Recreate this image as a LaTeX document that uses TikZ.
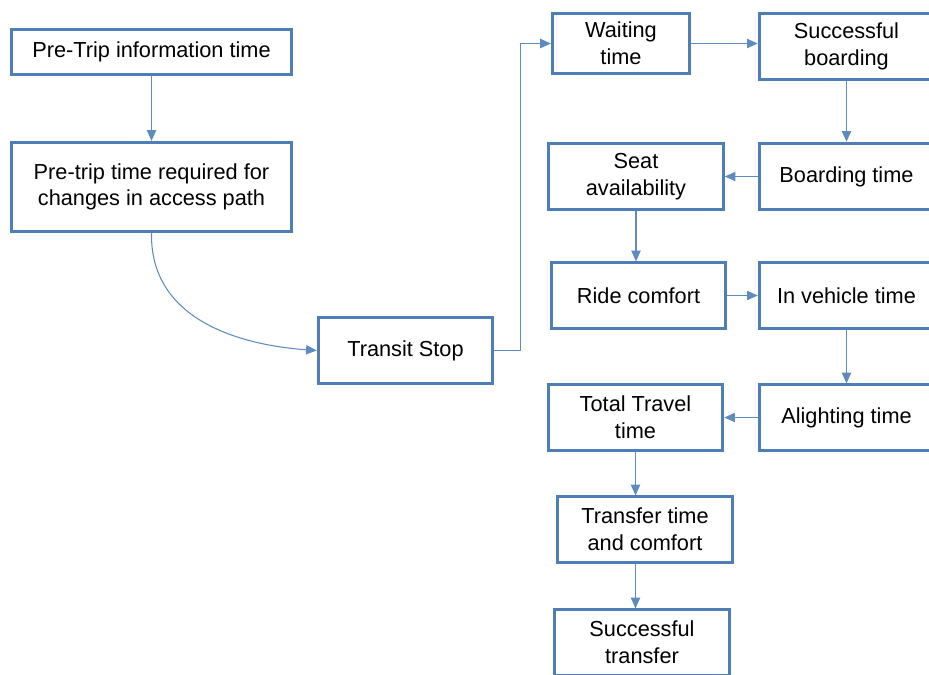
\documentclass[tikz,border=0pt]{standalone}
\usepackage{fontspec}
\setmainfont{Liberation Sans}
\usetikzlibrary{arrows.meta}
\definecolor{boxblue}{RGB}{79,125,181}
\definecolor{lineblue}{RGB}{94,139,192}

\begin{document}
\begin{tikzpicture}[x=0.75pt,y=-0.75pt,>={Triangle[length=8pt,width=7pt]},
    box/.style={draw=boxblue,line width=2.2pt,fill=white,align=center,inner sep=2pt,
      font=\fontsize{16.3}{20}\selectfont},
    cell/.style={box,minimum width=131pt,minimum height=49pt},
    link/.style={->,draw=lineblue,line width=0.8pt}]
  \clip (0,0) rectangle (929,675);

  \node[box,minimum width=210pt,minimum height=34pt] (info)   at (151.5,52)  {Pre-Trip information time};
  \node[box,minimum width=210pt,minimum height=67pt] (change) at (151.5,187)
        {Pre-trip time required for\\changes in access path};
  \node[cell] (stop)     at (405.5,350.5) {Transit Stop};
  \node[box,minimum width=103pt,minimum height=45pt] (wait) at (621,43.5) {Waiting\\time};
  \node[cell,minimum height=50pt] (sboard)   at (846.5,46.5)  {Successful\\boarding};
  \node[cell,minimum height=50pt] (seat)     at (636,176.5)   {Seat\\availability};
  \node[cell,minimum height=50pt] (boardt)   at (846.5,176.5) {Boarding time};
  \node[cell] (ride)     at (638.5,295.5) {Ride comfort};
  \node[cell] (vehicle)  at (846.5,295.5) {In vehicle time};
  \node[cell] (total)    at (635.5,417.5) {Total Travel\\time};
  \node[cell] (alight)   at (846.5,417.5) {Alighting time};
  \node[cell] (transfer) at (645,529.5)   {Transfer time\\and comfort};
  \node[cell] (stransf)  at (642,642.5)   {Successful\\transfer};

  \draw[link] (info) -- (change);
  \draw[link] (change.south) .. controls (150,320) and (240,345) .. (stop.west);
  \draw[link] (stop.east) -- ++(26,0) |- (wait.west);
  \draw[link] (wait.east) -- (wait.east -| sboard.west);
  \draw[link] (sboard) -- (boardt);
  \draw[link] (boardt) -- (seat);
  \draw[link] (seat.south) -- (seat.south |- ride.north);
  \draw[link] (ride) -- (vehicle);
  \draw[link] (vehicle) -- (alight);
  \draw[link] (alight) -- (total);
  \draw[link] (total.south) -- (total.south |- transfer.north);
  \draw[link] (total.south |- transfer.south) -- (total.south |- stransf.north);
\end{tikzpicture}
\end{document}
